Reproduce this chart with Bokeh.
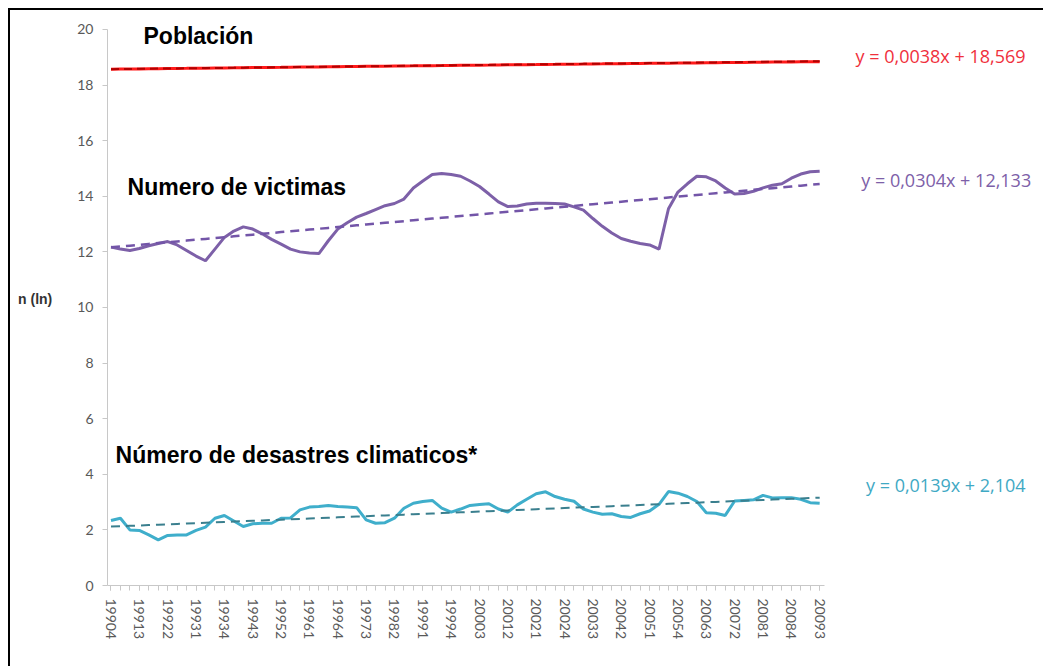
from bokeh.plotting import figure
from bokeh.embed import file_html
from bokeh.resources import INLINE
from bokeh.models import FixedTicker, ColumnDataSource
from bokeh.core.properties import value

tick_labels = ["19904", "19913", "19922", "19931", "19934", "19943", "19952", "19961",
               "19964", "19973", "19982", "19991", "19994", "20003", "20012", "20021",
               "20024", "20033", "20042", "20051", "20054", "20063", "20072", "20081",
               "20084", "20093"]

poblacion = [18.570, 18.574, 18.578, 18.582, 18.586, 18.590, 18.594, 18.598, 18.601, 18.605,
             18.609, 18.613, 18.617, 18.620, 18.624, 18.628, 18.632, 18.636, 18.639, 18.643,
             18.647, 18.651, 18.654, 18.658, 18.662, 18.666, 18.669, 18.673, 18.677, 18.680,
             18.684, 18.688, 18.691, 18.695, 18.699, 18.702, 18.706, 18.710, 18.713, 18.717,
             18.720, 18.724, 18.728, 18.731, 18.735, 18.738, 18.742, 18.745, 18.749, 18.753,
             18.756, 18.760, 18.763, 18.767, 18.770, 18.774, 18.777, 18.781, 18.784, 18.788,
             18.791, 18.795, 18.798, 18.802, 18.805, 18.809, 18.812, 18.815, 18.819, 18.822,
             18.826, 18.829, 18.832, 18.836, 18.839, 18.843]

victimas = [12.17, 12.10, 12.05, 12.12, 12.22, 12.30, 12.37, 12.25, 12.05, 11.85,
            11.68, 12.10, 12.52, 12.75, 12.90, 12.82, 12.65, 12.45, 12.28, 12.10,
            12.00, 11.96, 11.94, 12.40, 12.82, 13.05, 13.25, 13.38, 13.52, 13.66,
            13.74, 13.90, 14.30, 14.55, 14.78, 14.82, 14.78, 14.72, 14.55, 14.35,
            14.08, 13.80, 13.63, 13.65, 13.72, 13.75, 13.75, 13.74, 13.72, 13.62,
            13.50, 13.20, 12.92, 12.68, 12.48, 12.38, 12.30, 12.25, 12.10, 13.55,
            14.15, 14.45, 14.72, 14.70, 14.55, 14.30, 14.08, 14.10, 14.18, 14.30,
            14.40, 14.45, 14.65, 14.80, 14.88, 14.90]

desastres = [2.34, 2.42, 2.00, 1.98, 1.82, 1.64, 1.80, 1.82, 1.82, 1.98,
             2.10, 2.42, 2.52, 2.32, 2.12, 2.22, 2.24, 2.24, 2.42, 2.43,
             2.72, 2.82, 2.84, 2.88, 2.84, 2.82, 2.80, 2.36, 2.24, 2.26,
             2.42, 2.78, 2.96, 3.02, 3.06, 2.78, 2.64, 2.75, 2.88, 2.91,
             2.94, 2.75, 2.64, 2.90, 3.10, 3.30, 3.37, 3.20, 3.10, 3.03,
             2.75, 2.64, 2.56, 2.58, 2.48, 2.45, 2.58, 2.68, 2.92, 3.38,
             3.32, 3.20, 3.02, 2.62, 2.60, 2.52, 3.04, 3.06, 3.08, 3.24,
             3.15, 3.16, 3.16, 3.10, 2.98, 2.96]

# trend lines (slope, intercept) as printed on the chart
trend_pob = (0.0038, 18.569)
trend_vic = (0.0304, 12.133)
trend_des = (0.0139, 2.104)

eq_pob = "y = 0,0038x + 18,569"
eq_vic = "y = 0,0304x + 12,133"
eq_des = "y = 0,0139x + 2,104"

n = len(poblacion)
xs = list(range(n))

p = figure(width=1035, height=658, output_backend="svg", toolbar_location=None,
           x_range=(-0.37, 98.9), y_range=(0, 20.61),
           min_border_left=97, min_border_right=0, min_border_top=2, min_border_bottom=83)
p.styles = {"margin-left": "8px", "margin-top": "8px",
            "border-left": "2px solid black", "border-top": "2px solid black"}
p.outline_line_color = None
p.grid.visible = False
p.background_fill_color = "white"
p.border_fill_color = "white"

def trend(coef):
    a, b = coef
    return [a * (i + 1) + b for i in xs]

# series
p.line(xs, poblacion, line_color="#FF1A1A", line_width=3)
p.line(xs, trend(trend_pob), line_color="#B00000", line_width=2, line_dash="8 5")

p.line(xs, victimas, line_color="#7D60A8", line_width=3)
p.line(xs, trend(trend_vic), line_color="#7355A8", line_width=2.5, line_dash="9 6")

p.line(xs, desastres, line_color="#3FAECB", line_width=3)
p.line(xs, trend(trend_des), line_color="#3A7F8E", line_width=2, line_dash="9 6")

# axes
tick_pos = [xs[i] for i in range(0, n, 3)]
p.xaxis.ticker = FixedTicker(ticks=tick_pos, minor_ticks=xs)
p.xaxis.major_label_overrides = {tp: lab for tp, lab in zip(tick_pos, tick_labels)}
p.xaxis.major_label_orientation = "vertical"
p.xaxis.bounds = (-0.37, 75.5)
p.xaxis.axis_line_color = "#C8C8C8"
p.xaxis.major_tick_line_color = "#C8C8C8"
p.xaxis.minor_tick_line_color = "#C8C8C8"
p.xaxis.major_tick_out = 5
p.xaxis.major_tick_in = 0
p.xaxis.minor_tick_out = 5
p.xaxis.minor_tick_in = 0
p.xaxis.major_label_standoff = 8
p.xaxis.major_label_text_font = "Lato"
p.xaxis.major_label_text_font_size = "14px"
p.xaxis.major_label_text_color = "#595959"

p.yaxis.ticker = FixedTicker(ticks=list(range(0, 21, 2)), minor_ticks=[])
p.yaxis.bounds = (0, 20)
p.yaxis.axis_line_color = "#C8C8C8"
p.yaxis.major_tick_line_color = "#C8C8C8"
p.yaxis.major_tick_out = 5
p.yaxis.major_tick_in = 0
p.yaxis.minor_tick_line_color = None
p.yaxis.major_label_standoff = 9
p.yaxis.major_label_text_font = "Lato"
p.yaxis.major_label_text_font_size = "14px"
p.yaxis.major_label_text_color = "#595959"
p.yaxis.axis_label = "n (ln)"
p.yaxis.axis_label_orientation = "horizontal"
p.yaxis.axis_label_text_font = "Liberation Sans"
p.yaxis.axis_label_text_font_style = "bold"
p.yaxis.axis_label_text_font_size = "14px"
p.yaxis.axis_label_text_color = "#333333"
p.yaxis.axis_label_standoff = 22

# titles of series
titles = ColumnDataSource(dict(x=[3.44, 1.75, 0.48], y=[19.78, 14.35, 4.68],
                               t=["Población", "Numero de victimas", "Número de desastres climaticos*"]))
p.text(x="x", y="y", text="t", source=titles, text_font=value("Liberation Sans"),
       text_font_style="bold", text_font_size="23px", text_color="black",
       text_align="left", text_baseline="middle")

eqs = ColumnDataSource(dict(x=[78.8, 79.4, 79.9], y=[19.03, 14.57, 3.60],
                            t=[eq_pob, eq_vic, eq_des],
                            c=["#F0303C", "#7D60A8", "#3FA9C4"]))
p.text(x="x", y="y", text="t", source=eqs, text_color="c", text_font=value("Open Sans"),
       text_font_size="18px", text_align="left", text_baseline="middle")

open("out.html", "w").write(file_html(p, INLINE))
